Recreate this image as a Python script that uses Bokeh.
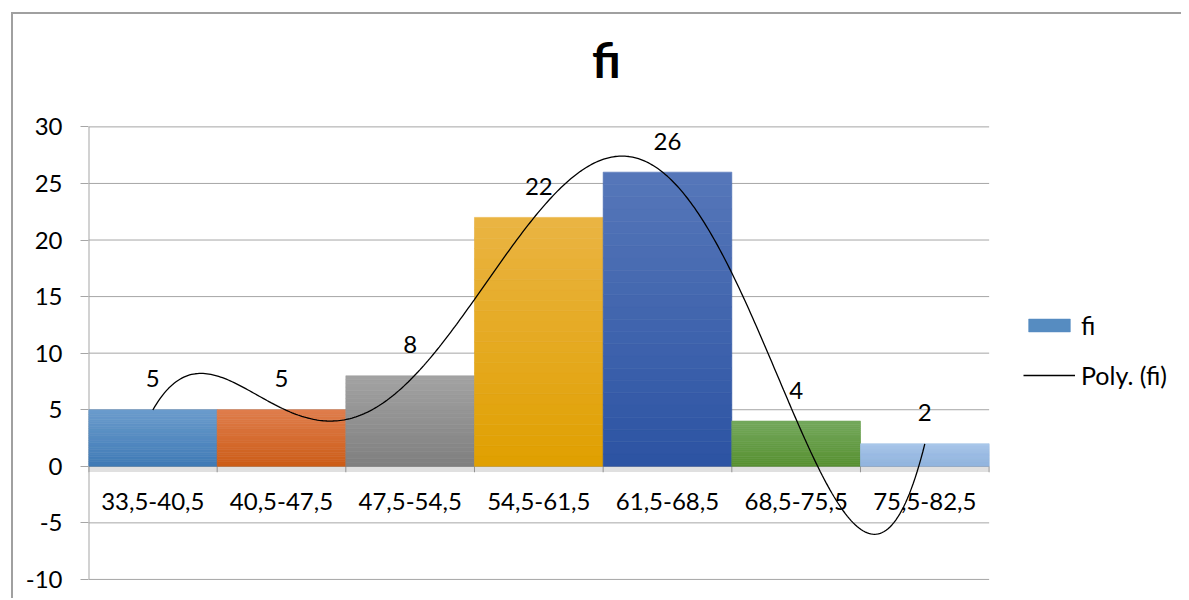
import numpy as np
from bokeh.plotting import figure
from bokeh.models import (Range1d, FixedTicker, LinearAxis, Legend, LegendItem,
                          ColumnDataSource, CustomJSTickFormatter, InlineStyleSheet)
from bokeh.core.properties import value
from bokeh.embed import file_html
from bokeh.resources import INLINE

# ---- data ----
categories = ["33,5-40,5", "40,5-47,5", "47,5-54,5", "54,5-61,5",
              "61,5-68,5", "68,5-75,5", "75,5-82,5"]
fi = [5, 5, 8, 22, 26, 4, 2]
y_ticks = [-10, -5, 0, 5, 10, 15, 20, 25, 30]
title_text = "fi"
series_label = "fi"
trend_label = "Poly. (fi)"
trend_degree = 5

# ---- styles ----
top_colors = ["#6b9ccc", "#df7d4c", "#a3a3a3", "#eab443", "#5677b9", "#74a85c", "#a6c4e8"]
bottom_colors = ["#3f7ab6", "#cc5c17", "#7f7f7f", "#e0a000", "#2c53a3", "#579131", "#8db2de"]
FONT = "Lato"
GRID = "#a6a6a6"
N_BANDS = 24
FS = "24px"

# ---- layout (pixels) ----
W, H = 1168, 584            # canvas size
LEFT_BORDER = 75            # room for the value axis labels
PLOT_W = 899                # width of the category area
PLOT_H = 451                # height of the value area
TOP_GAP = 112               # canvas top -> top gridline
TICK_PX = 6                 # length of the category boundary ticks
px_x = PLOT_W / len(categories)
px_y = PLOT_H / (y_ticks[-1] - y_ticks[0])
frame_w = W - LEFT_BORDER
x_end = frame_w / px_x
y_end = y_ticks[-1] + TOP_GAP / px_y
y_start = y_ticks[0] - (H - TOP_GAP - PLOT_H) / px_y


def hex2rgb(h):
    h = h.lstrip("#")
    return np.array([int(h[i:i + 2], 16) for i in (0, 2, 4)], dtype=float)


def rgb2hex(c):
    return "#%02x%02x%02x" % tuple(int(round(v)) for v in c)


n = len(categories)
css = InlineStyleSheet(css="""
:host { box-sizing: content-box; margin-left: 11px; margin-top: 12px;
        border-left: 2px solid #a0a0a0; border-top: 2px solid #a0a0a0;
        border-right: 0; border-bottom: 0; }
""")
p = figure(width=W, height=H, output_backend="svg", toolbar_location=None,
           x_range=Range1d(0, x_end), y_range=Range1d(y_start, y_end),
           x_axis_location=None, y_axis_location=None,
           min_border_left=LEFT_BORDER, min_border_right=0, min_border_top=0, min_border_bottom=0)
p.stylesheets = [css]
p.outline_line_color = None
p.background_fill_color = "white"
p.border_fill_color = "white"
p.xgrid.visible = False
p.ygrid.visible = False

# y axis (labels and outward ticks; its rule is drawn with the gridlines below)
yaxis = LinearAxis(ticker=FixedTicker(ticks=y_ticks),
                   formatter=CustomJSTickFormatter(code="return tick.toString()"))
yaxis.axis_line_color = None
yaxis.major_tick_line_color = GRID
yaxis.major_tick_in = 0
yaxis.major_tick_out = 8
yaxis.minor_tick_line_color = None
yaxis.major_label_standoff = 18
yaxis.major_label_text_font = FONT
yaxis.major_label_text_font_size = FS
yaxis.major_label_text_color = "black"
p.add_layout(yaxis, "left")

# horizontal gridlines across the category area (the one at 0 is the category axis line)
p.multi_line(xs=[[0, n] for _ in y_ticks], ys=[[t, t] for t in y_ticks],
             line_color=GRID, line_width=1)
# value axis rule
p.multi_line(xs=[[0, 0]], ys=[[y_ticks[0], y_ticks[-1]]], line_color=GRID, line_width=2)
# category boundary ticks below the zero line
p.multi_line(xs=[[b, b] for b in range(n + 1)],
             ys=[[0, -TICK_PX / px_y] for _ in range(n + 1)], line_color=GRID, line_width=1)

# soft shadow under the bars
p.quad(left=list(range(n)), right=[i + 1 for i in range(n)],
       bottom=[-0.5] * n, top=[v - 0.3 for v in fi],
       fill_color="#000000", fill_alpha=0.12, line_color=None)

# bars drawn as gradient bands
left, right, bottom, top, colors = [], [], [], [], []
for i, v in enumerate(fi):
    c_top, c_bot = hex2rgb(top_colors[i]), hex2rgb(bottom_colors[i])
    for k in range(N_BANDS):
        t = (k + 0.5) / N_BANDS
        left.append(i)
        right.append(i + 1)
        bottom.append(v * k / N_BANDS)
        top.append(v * (k + 1) / N_BANDS)
        colors.append(rgb2hex(c_bot * (1 - t) + c_top * t))
bar_src = ColumnDataSource(dict(left=left, right=right, bottom=bottom, top=top, color=colors))
bars = p.quad(left="left", right="right", bottom="bottom", top="top", source=bar_src,
              fill_color="color", line_color="color", line_width=0.6)

# category axis at zero: category labels
centers = [i + 0.5 for i in range(n)]
xaxis = LinearAxis(ticker=FixedTicker(ticks=centers), fixed_location=0,
                   formatter=CustomJSTickFormatter(args=dict(cats=categories),
                                                   code="return cats[Math.floor(tick)] || ''"))
xaxis.axis_line_color = None
xaxis.major_tick_line_color = None
xaxis.minor_tick_line_color = None
xaxis.major_label_standoff = 21
xaxis.major_label_text_font = FONT
xaxis.major_label_text_font_size = FS
xaxis.major_label_text_color = "black"
p.add_layout(xaxis, "below")

# polynomial trendline (least-squares fit over category positions 1..n)
xs_idx = np.arange(1, n + 1)
coef = np.polyfit(xs_idx, fi, trend_degree)
tt = np.linspace(1, n, 400)
trend = p.line(tt - 0.5, np.polyval(coef, tt), line_color="black", line_width=1.3)

# data labels
p.text(x=centers, y=fi, text=[str(v) for v in fi], text_align="center",
       text_baseline="alphabetic", y_offset=-31, text_font=value(FONT),
       text_font_size=FS, text_color="black")

# chart title, centred over the chart area
TITLE_CX, TITLE_BASE = 517, 67   # px right of the value axis, px above the top gridline
p.text(x=[TITLE_CX / px_x], y=[y_ticks[-1] + TITLE_BASE / px_y], text=[title_text],
       text_align="center", text_baseline="alphabetic", text_font=value(FONT),
       text_font_size="48px", text_font_style="bold", text_color="black")

# legend right of the category area
legend = Legend(items=[LegendItem(label=series_label, renderers=[bars], index=N_BANDS // 2),
                       LegendItem(label=trend_label, renderers=[trend])],
                location=(935, H - 374), glyph_width=52,
                glyph_height=16, label_standoff=6,
                spacing=20, padding=0, margin=0, border_line_color=None,
                background_fill_alpha=0, label_text_font=FONT,
                label_text_font_size="25px", label_text_color="black")
p.add_layout(legend, "center")

open("out.html", "w").write(file_html(p, INLINE))
